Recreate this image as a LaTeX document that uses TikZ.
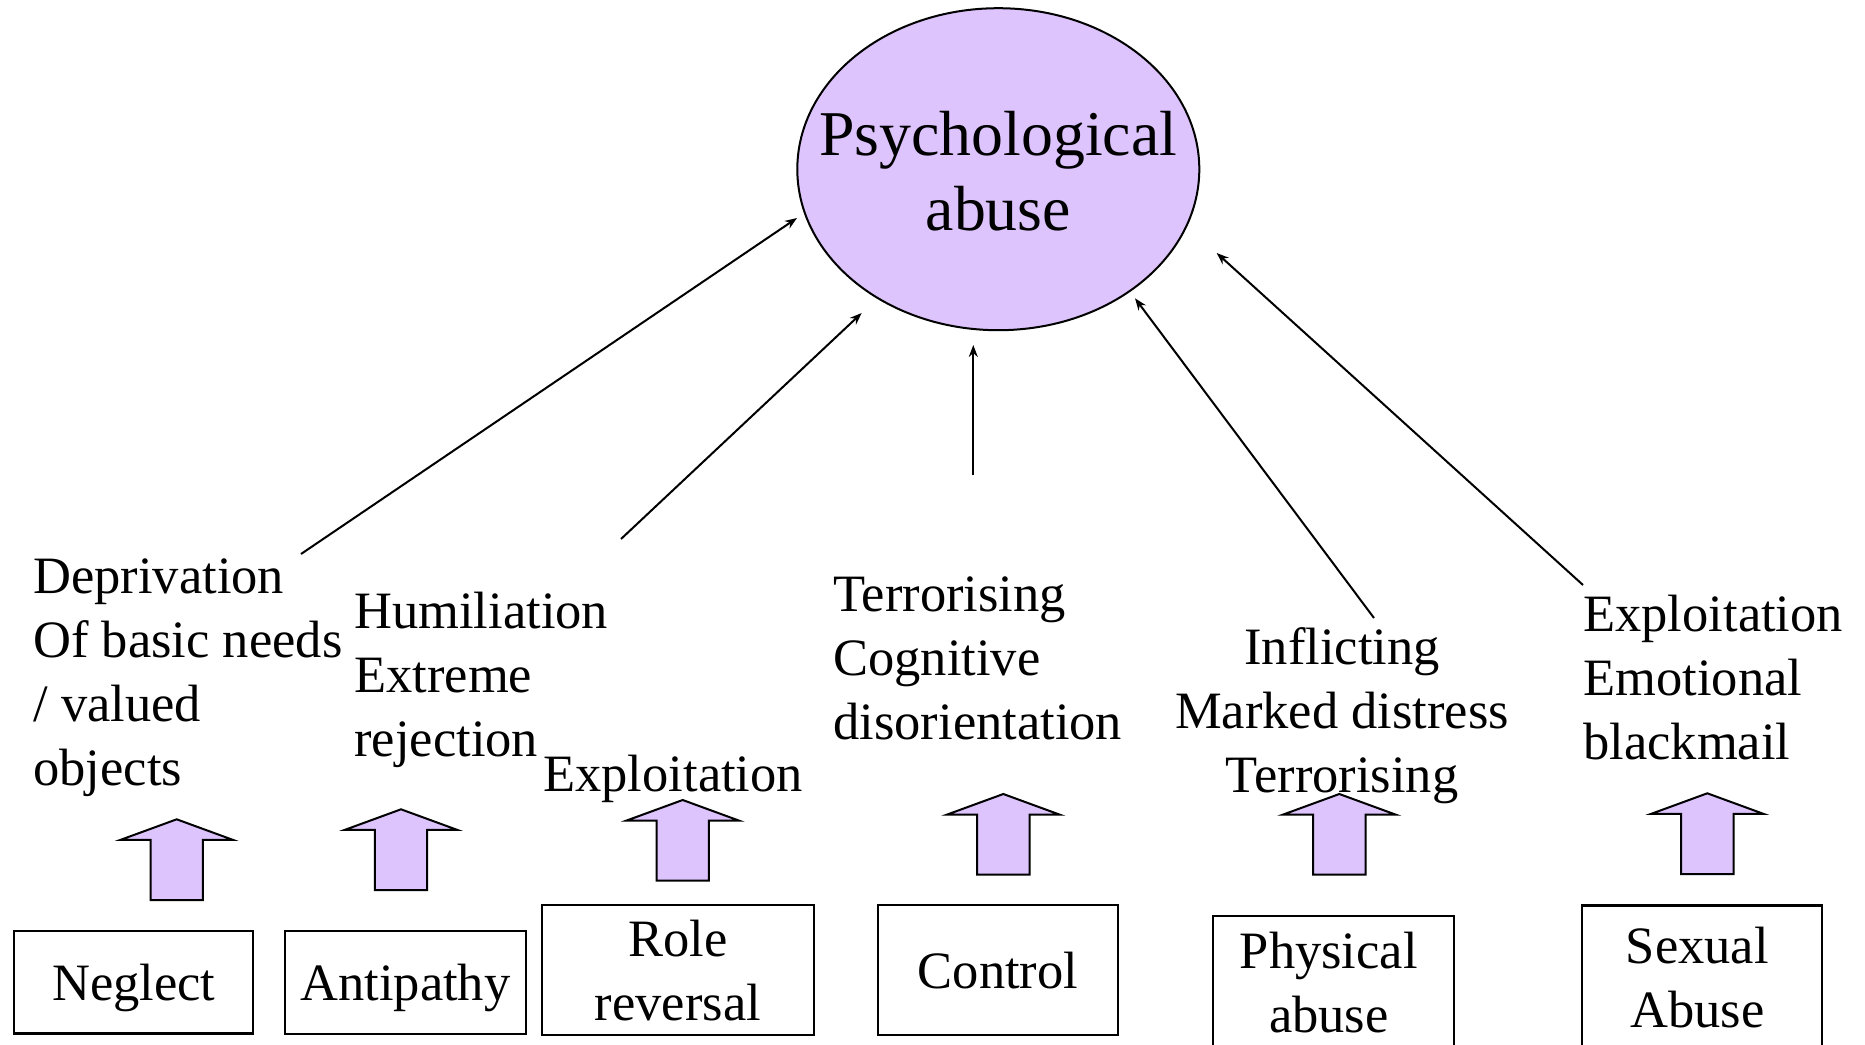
\documentclass[tikz,border=0pt]{standalone}
\usepackage{fontspec}
\setmainfont{Liberation Serif}
\usetikzlibrary{arrows.meta,shapes.geometric}
\definecolor{lav}{RGB}{222,196,253}
\begin{document}
\begin{tikzpicture}[x=0.5pt,y=-0.5pt,
  lbl/.style={inner sep=0pt, font=\fontsize{26.25}{32}\selectfont},
  leftlbl/.style={lbl, align=left, anchor=north west},
  boxnode/.style={draw, line width=1.1pt, rectangle, inner sep=0pt, align=center,
    text depth=0pt, font=\fontsize{26.25}{32}\selectfont},
  link/.style={line width=1pt, -{Stealth[length=6pt,width=4.5pt]}},
  pics/uparrow/.style={code={
    \draw[fill=lav, line width=1pt] (0,0) -- (56.3,20.6) -- (26.2,20.6) -- (26.2,80.7)
      -- (-26.2,80.7) -- (-26.2,20.6) -- (-56.3,20.6) -- cycle;}}
]
\useasboundingbox (0,0) rectangle (1865,1045);
\clip (0,0) rectangle (1865,1045);
\fill[white] (0,0) rectangle (1865,1045);

% central ellipse
\node[ellipse, draw, fill=lav, line width=1pt, minimum width=201pt, minimum height=161pt,
      inner sep=0pt] (psy) at (998.3,169.2) {};
\node[inner sep=0pt, align=center, font=\fontsize{31.9}{37.5}\selectfont] (psytext)
      at ([yshift=-1pt]psy.center) {Psychological\\abuse};

% text blocks
\node[leftlbl] (dep) at (33,558) {Deprivation\\Of basic needs\\/ valued\\objects};
\node[leftlbl] (hum) at (354,592) {Humiliation\\Extreme\\rejection};
\node[leftlbl] (expa) at (543,755) {Exploitation};
\node[leftlbl] (ter) at (833,576) {Terrorising\\Cognitive\\disorientation};
\node[lbl, align=center, anchor=north] (inf) at (1342,627) {Inflicting\\Marked distress\\Terrorising};
\node[leftlbl] (expb) at (1583,595) {Exploitation\\Emotional\\blackmail};

% boxes
\node[boxnode, minimum width=119.5pt, minimum height=51.25pt] (neg) at (133.8,982.2) {Neglect};
\node[boxnode, minimum width=120.35pt, minimum height=51.5pt] (anti) at (405.4,982.5) {Antipathy};
\node[boxnode, minimum width=136.3pt, minimum height=64.85pt] (role) at (678,970.2) {Role\\reversal};
\node[boxnode, minimum width=120.3pt, minimum height=64.85pt] (ctrl) at (998,970.2) {Control};
\node[boxnode, minimum width=120.5pt, minimum height=66.5pt] (phys) at (1333.8,982.5)
  {Physical\hspace*{5pt}\\abuse\hspace*{5pt}};
\node[boxnode, minimum width=120pt, minimum height=71.3pt] (sex) at (1702.3,976.8)
  {Sexual\hspace*{5pt}\\Abuse\hspace*{5pt}};

% block arrows
\pic (ba1) at (176.7,819.3) {uparrow};
\pic (ba2) at (401,809.3) {uparrow};
\pic (ba3) at (682.7,800) {uparrow};
\pic (ba4) at (1003.3,794) {uparrow};
\pic (ba5) at (1339.3,794) {uparrow};
\pic (ba6) at (1707.3,793.3) {uparrow};

% connector ends
\coordinate (s1) at (301,554);   \coordinate (t1) at (797,218);
\coordinate (s2) at (621,539);   \coordinate (t2) at (861.7,313);
\coordinate (s3) at (973.3,475); \coordinate (t3) at (973.3,345);
\coordinate (s4) at (1374,618);  \coordinate (t4) at (1135,298.3);
\coordinate (s5) at (1583,585);  \coordinate (t5) at (1216.7,253);

\draw[link] (s1) -- (t1);
\draw[link] (s2) -- (t2);
\draw[link] (s3) -- (t3);
\draw[link] (s4) -- (t4);
\draw[link] (s5) -- (t5);
\end{tikzpicture}
\end{document}
